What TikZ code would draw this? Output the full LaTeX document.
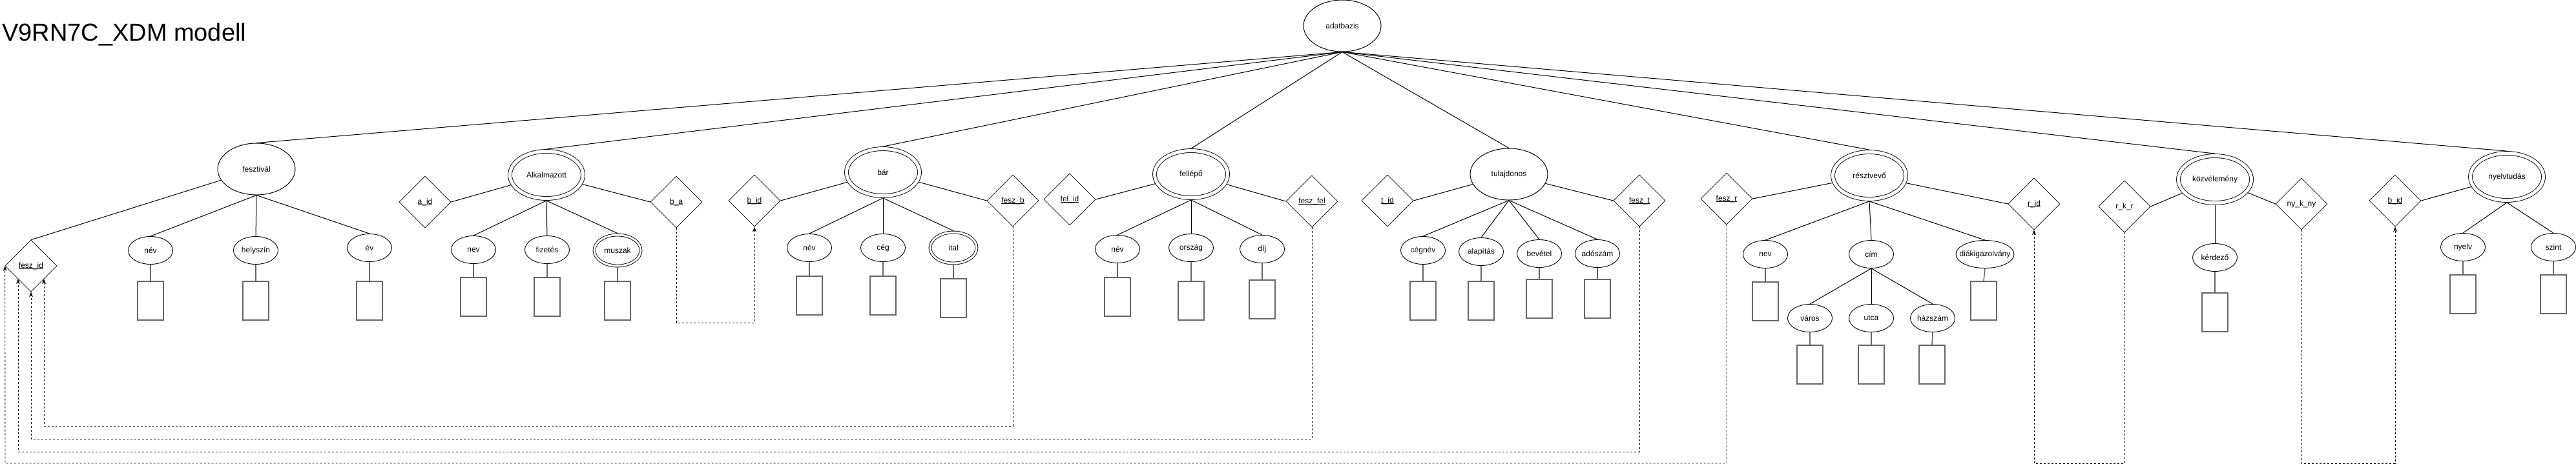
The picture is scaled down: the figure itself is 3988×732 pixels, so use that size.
\documentclass[tikz,border=0pt]{standalone}
\usepackage{fontspec}
\setmainfont{Liberation Sans}
\usetikzlibrary{shapes.geometric,arrows.meta}
\definecolor{rectgray}{HTML}{666666}
\newcommand\keylbl[1]{\setbox0=\hbox{#1}\rlap{\vrule height -1.3pt depth 2.2pt width \wd0}\box0}
\begin{document}
\begin{tikzpicture}[x=1pt,y=-1pt,
  every node/.style={font=\fontsize{12}{14}\selectfont, inner sep=0pt},
  ent/.style={ellipse, draw, line width=1pt, minimum width=120pt, minimum height=80pt},
  went/.style={ellipse, draw, line width=0.9pt, double, double distance=5pt, minimum width=113pt, minimum height=73pt, outer sep=3.4pt},
  attr/.style={ellipse, draw, line width=0.9pt, minimum width=69pt, minimum height=43pt},
  mattr/.style={ellipse, draw, line width=0.9pt, double, double distance=3pt, minimum width=72pt, minimum height=48pt, outer sep=2.4pt},
  rel/.style={diamond, draw, line width=0.7pt, minimum width=80pt, minimum height=80pt, aspect=1},
  val/.style={rectangle, draw=rectgray, line width=1.5pt, minimum width=40pt, minimum height=60pt},
  ln/.style={draw, line width=1pt},
  vln/.style={draw=rectgray, line width=1.5pt},
  fk/.style={draw, line width=0.9pt, dash pattern=on 3pt off 3pt, -{Stealth[length=8pt,width=6pt]}},
]
\useasboundingbox (0,0) rectangle (3988,732);

% title
\node[anchor=base west, font=\fontsize{38}{44}\selectfont] (title) at (3,63) {V9RN7C\_XDM modell};

% root
\node[ent] (adatb) at (2078,40) {adatbazis};

% ---- fesztival
\node[ent] (feszt) at (397,262) {fesztivál};
\node[rel] (feszid) at (48,412) {\keylbl{fesz\_id}};
\node[attr] (fnev) at (233,388) {név};
\node[attr] (fhely) at (396,388) {helyszín};
\node[attr] (fev) at (572,384) {év};
\node[val] (fnevr) at (233,466) {};
\node[val] (fhelyr) at (396,466) {};
\node[val] (fevr) at (572,466) {};

% ---- alkalmazott
\node[rel] (aid) at (658,313) {\keylbl{a\_id}};
\node[went] (alk) at (846,271) {Alkalmazott};
\node[rel] (ba) at (1047,313) {\keylbl{b\_a}};
\node[attr] (anev) at (733,387) {nev};
\node[attr] (afiz) at (847,387) {fizetés};
\node[mattr] (amusz) at (956,388) {muszak};
\node[val] (anevr) at (733,460) {};
\node[val] (afizr) at (847,460) {};
\node[val] (amuszr) at (956,466) {};

% ---- bar
\node[rel] (bid) at (1168,311) {\keylbl{b\_id}};
\node[went] (bar) at (1367,267) {bár};
\node[attr] (bnev) at (1253,384) {név};
\node[attr] (bceg) at (1367,384) {cég};
\node[mattr] (bital) at (1476,384) {ital};
\node[val] (bnevr) at (1253,458) {};
\node[val] (bcegr) at (1367,458) {};
\node[val] (bitalr) at (1476,462) {};
\node[rel] (feszb) at (1568,311) {\keylbl{fesz\_b}};

% ---- fellepo
\node[rel] (felid) at (1656,309) {\keylbl{fel\_id}};
\node[went] (fell) at (1844,270) {fellépő};
\node[attr] (fenev) at (1730,386) {név};
\node[attr] (feorsz) at (1844,384) {ország};
\node[attr] (fedij) at (1954,386) {díj};
\node[val] (fenevr) at (1730,460) {};
\node[val] (feorszr) at (1844,466) {};
\node[val] (fedijr) at (1954,464) {};
\node[rel] (feszfel) at (2031,312) {\keylbl{fesz\_fel}};

% ---- tulajdonos
\node[rel] (tid) at (2148,311) {\keylbl{t\_id}};
\node[ent] (tul) at (2336,270) {tulajdonos};
\node[attr] (tceg) at (2203,388) {cégnév};
\node[attr] (talap) at (2293,390) {alapítás};
\node[attr] (tbev) at (2383,393) {bevétel};
\node[attr] (tado) at (2473,393) {adószám};
\node[val] (tcegr) at (2203,466) {};
\node[val] (talapr) at (2293,466) {};
\node[val] (tbevr) at (2383,463) {};
\node[val] (tador) at (2473,463) {};
\node[rel] (fesztt) at (2538,311) {\keylbl{fesz\_t}};

% ---- resztvevo
\node[rel] (feszr) at (2673,308) {\keylbl{fesz\_r}};
\node[went] (resz) at (2894,272) {résztvevő};
\node[attr] (rnev) at (2733,394) {nev};
\node[attr] (rcim) at (2897,394) {cím};
\node[attr, minimum width=90pt, inner xsep=-15pt] (rdiak) at (3073,394) {diákigazolvány};
\node[val] (rnevr) at (2733,467) {};
\node[val] (rdiakr) at (3071,466) {};
\node[attr] (rvaros) at (2802,493) {város};
\node[attr] (rutca) at (2897,493) {utca};
\node[attr] (rhaz) at (2992,493) {házszám};
\node[val] (rvarosr) at (2802,565) {};
\node[val] (rutcar) at (2897,565) {};
\node[val] (rhazr) at (2991,565) {};
\node[rel] (rid) at (3149,316) {\keylbl{r\_id}};

% ---- kozvelemeny
\node[rel] (rkr) at (3289,320) {r\_k\_r};
\node[went] (kozv) at (3429,278) {közvélemény};
\node[attr] (kerd) at (3429,399) {kérdező};
\node[val] (kerdr) at (3429,484) {};
\node[rel] (nykny) at (3563,316) {ny\_k\_ny};

% ---- nyelvtudas
\node[rel] (bidb) at (3708,311) {\keylbl{b\_id}};
\node[went] (nyt) at (3881,274) {nyelvtudás};
\node[attr] (nynyelv) at (3813,383) {nyelv};
\node[attr] (nyszint) at (3953,383) {szint};
\node[val] (nynyelvr) at (3813,456) {};
\node[val] (nyszintr) at (3953,456) {};

% ---- root connectors
\foreach \e in {feszt,alk,bar,fell,tul,resz,kozv,nyt}
  \path[ln] (adatb.south) -- (\e.north);

% ---- entity to key diamonds
\path[ln] (feszt) -- (feszid.north);
\path[ln] (alk) -- (aid.east);
\path[ln] (alk) -- (ba.west);
\path[ln] (bar) -- (bid.east);
\path[ln] (bar) -- (feszb.west);
\path[ln] (fell) -- (felid.east);
\path[ln] (fell) -- (feszfel.west);
\path[ln] (tul) -- (tid.east);
\path[ln] (tul) -- (fesztt.west);
\path[ln] (resz) -- (feszr.east);
\path[ln] (resz) -- (rid.west);
\path[ln] (kozv) -- (rkr.east);
\path[ln] (kozv) -- (nykny.west);
\path[ln] (nyt) -- (bidb.east);

% ---- entity to attributes
\foreach \a in {fnev,fhely,fev} \path[ln] (feszt.south) -- (\a.north);
\foreach \a in {anev,afiz,amusz} \path[ln] (alk.south) -- (\a.north);
\foreach \a in {bnev,bceg,bital} \path[ln] (bar.south) -- (\a.north);
\foreach \a in {fenev,feorsz,fedij} \path[ln] (fell.south) -- (\a.north);
\foreach \a in {tceg,talap,tbev,tado} \path[ln] (tul.south) -- (\a.north);
\foreach \a in {rnev,rcim,rdiak} \path[ln] (resz.south) -- (\a.north);
\foreach \a in {rvaros,rutca,rhaz} \path[ln] (rcim.south) -- (\a.north);
\path[ln] (kozv.south) -- (kerd.north);
\foreach \a in {nynyelv,nyszint} \path[ln] (nyt.south) -- (\a.north);

% ---- attributes to value boxes
\foreach \a in {fnev,fhely,fev,anev,afiz,amusz,bnev,bceg,bital,fenev,feorsz,fedij,tceg,talap,tbev,tado,rnev,rdiak,rvaros,rutca,rhaz,kerd,nynyelv,nyszint}
  \path[vln] (\a.south) -- (\a r.north);

% ---- foreign key references
\coordinate (cba) at (1168,500);
\path[fk] (ba.south) |- (cba) -- (bid.south);

\coordinate (c1) at (68,660);
\coordinate (t1) at (68,432);
\path[fk] (feszb.south) |- (c1) -- (t1);

\coordinate (c2) at (48,680);
\path[fk] (feszfel.south) |- (c2) -- (feszid.south);

\coordinate (c3) at (28,700);
\coordinate (t3) at (28,432);
\path[fk] (fesztt.south) |- (c3) -- (t3);

\coordinate (c4) at (8,718);
\path[fk] (feszr.south) |- (c4) -- (feszid.west);

\coordinate (c5) at (3149,718);
\path[fk] (rkr.south) |- (c5) -- (rid.south);

\coordinate (c6) at (3708,718);
\path[fk] (nykny.south) |- (c6) -- (bidb.south);
\end{tikzpicture}
\end{document}
